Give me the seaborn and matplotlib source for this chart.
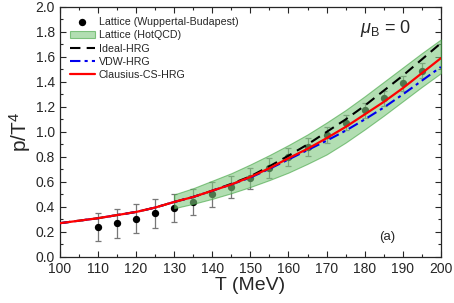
import numpy as np
import pandas as pd
import matplotlib
matplotlib.use("Agg")
import matplotlib.pyplot as plt
import seaborn as sns

# lattice data (Wuppertal-Budapest)
T_wb = [110, 115, 120, 125, 130, 135, 140, 145, 150, 155, 160, 165, 170, 175, 180, 185, 190, 195]
p_wb = [0.24, 0.27, 0.305, 0.35, 0.39, 0.44, 0.50, 0.56, 0.63, 0.71, 0.80, 0.88, 0.975, 1.075, 1.175, 1.27, 1.39, 1.49]
err_wb = [0.115, 0.115, 0.115, 0.115, 0.11, 0.105, 0.10, 0.09, 0.085, 0.08, 0.075, 0.07, 0.065, 0.06, 0.06, 0.06, 0.06, 0.06]

# HotQCD band
T_hq = [130, 135, 140, 145, 150, 155, 160, 165, 170, 175, 180, 185, 190, 195, 200]
lo_hq = [0.39, 0.425, 0.465, 0.51, 0.56, 0.615, 0.675, 0.745, 0.82, 0.915, 1.02, 1.13, 1.245, 1.36, 1.47]
hi_hq = [0.50, 0.55, 0.61, 0.67, 0.74, 0.815, 0.895, 0.98, 1.075, 1.175, 1.285, 1.40, 1.515, 1.63, 1.74]

# HRG curves
T_hrg = [100, 105, 110, 115, 120, 125, 130, 135, 140, 145, 150, 155, 160, 165, 170, 175, 180, 185, 190, 195, 200]
p_ideal = [0.27, 0.29, 0.31, 0.335, 0.36, 0.395, 0.44, 0.48, 0.53, 0.585, 0.645, 0.725, 0.81, 0.90, 1.00, 1.10, 1.21, 1.33, 1.45, 1.58, 1.71]
p_vdw = [0.27, 0.29, 0.31, 0.335, 0.36, 0.395, 0.44, 0.48, 0.53, 0.58, 0.635, 0.705, 0.78, 0.855, 0.93, 1.01, 1.10, 1.195, 1.30, 1.41, 1.52]
p_ccs = [0.27, 0.29, 0.31, 0.335, 0.36, 0.395, 0.44, 0.48, 0.53, 0.58, 0.64, 0.71, 0.79, 0.865, 0.95, 1.04, 1.14, 1.24, 1.35, 1.47, 1.59]

sns.set_style("ticks")
plt.rcParams['font.family'] = ['Liberation Sans', 'DejaVu Sans']
plt.rcParams['mathtext.fontset'] = 'custom'
plt.rcParams['mathtext.rm'] = 'Liberation Sans'
plt.rcParams['mathtext.it'] = 'Liberation Sans:italic'

fig = plt.figure(figsize=(4.54, 3.03), dpi=100)
ax = fig.add_axes([0.132, 0.152, 0.839, 0.825])

df_wb = pd.DataFrame({"T": T_wb, "p": p_wb})
ax.errorbar(T_wb, p_wb, yerr=err_wb, fmt="none", ecolor="#777777", elinewidth=0.9,
            capsize=2.5, capthick=0.9, zorder=2)
sns.scatterplot(data=df_wb, x="T", y="p", ax=ax, color="black", s=28, edgecolor="black",
                linewidth=0, zorder=3, label="Lattice (Wuppertal-Budapest)")

ax.fill_between(T_hq, lo_hq, hi_hq, facecolor="#80c880", alpha=0.6, edgecolor="#3fa33f",
                linewidth=0.8, zorder=4, label="Lattice (HotQCD)")

df_hrg = pd.DataFrame({"T": T_hrg, "ideal": p_ideal, "vdw": p_vdw, "ccs": p_ccs})
sns.lineplot(data=df_hrg, x="T", y="ideal", ax=ax, color="black", linewidth=1.5,
             linestyle=(0, (5, 3)), zorder=5, label="Ideal-HRG")
sns.lineplot(data=df_hrg, x="T", y="vdw", ax=ax, color="#0000ee", linewidth=1.5,
             linestyle=(0, (5, 2, 1.5, 2)), zorder=5, label="VDW-HRG")
sns.lineplot(data=df_hrg, x="T", y="ccs", ax=ax, color="#ff0000", linewidth=1.6,
             zorder=6, label="Clausius-CS-HRG")

ax.set_xlim(100, 200)
ax.set_ylim(0, 2.0)
ax.set_xticks(range(100, 201, 10))
ax.set_xticks(range(100, 201, 5), minor=True)
ax.set_yticks(np.arange(0, 2.01, 0.2))
ax.set_yticks(np.arange(0, 2.01, 0.1), minor=True)
ax.set_yticklabels([f"{v:.1f}" for v in np.arange(0, 2.01, 0.2)])
ax.tick_params(which="both", direction="in", top=True, right=True, labelsize=10, width=0.8)
ax.tick_params(which="major", length=4)
ax.tick_params(which="minor", length=2.5)
for s in ax.spines.values():
    s.set_linewidth(0.9)

ax.set_xlabel("T (MeV)", fontsize=14, labelpad=1)
ax.set_ylabel("p/T$^4$", fontsize=15, labelpad=2)

ax.text(185.5, 1.83, r"$\mu_{\rm B}$ = 0", fontsize=13, ha="center", va="center")
ax.text(186, 0.16, "(a)", fontsize=9.5, ha="center", va="center")

leg = ax.legend(loc="upper left", frameon=False, fontsize=7.7, handlelength=2.3,
                handletextpad=0.4, labelspacing=0.3, borderpad=0.35,
                borderaxespad=0.6, bbox_to_anchor=(0.0, 1.0))

fig.savefig("out.png", dpi=100)
